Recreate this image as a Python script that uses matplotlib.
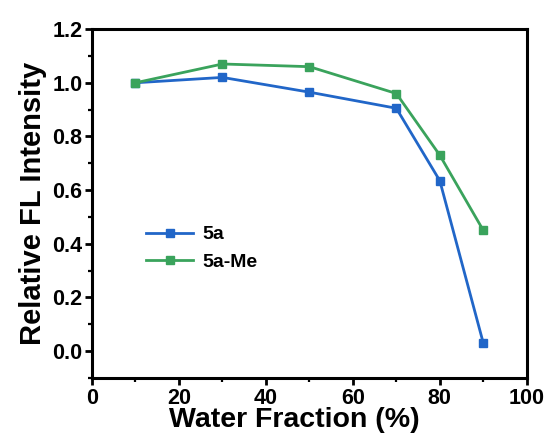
import matplotlib
matplotlib.use("Agg")
import matplotlib.pyplot as plt
from matplotlib.ticker import MultipleLocator

plt.rcParams['font.family'] = ['Liberation Sans', 'DejaVu Sans']
plt.rcParams['font.weight'] = 'bold'

water = [10, 30, 50, 70, 80, 90]
s_5a = [1.00, 1.02, 0.965, 0.905, 0.635, 0.03]
s_5a_me = [1.00, 1.07, 1.06, 0.96, 0.73, 0.45]
labels = ['5a', '5a-Me']
colors = ['#2166c8', '#3aa35c']

fig = plt.figure(figsize=(5.51, 4.41), dpi=100)
ax = fig.add_axes([0.167, 0.143, 0.789, 0.791])

ax.plot(water, s_5a, '-s', color=colors[0], lw=2.0, ms=5.5, label=labels[0])
ax.plot(water, s_5a_me, '-s', color=colors[1], lw=2.0, ms=5.5, label=labels[1])

ax.set_xlim(0, 100)
ax.set_ylim(-0.1, 1.2)
ax.xaxis.set_major_locator(MultipleLocator(20))
ax.xaxis.set_minor_locator(MultipleLocator(10))
ax.yaxis.set_minor_locator(MultipleLocator(0.1))
ax.set_yticks([0.0, 0.2, 0.4, 0.6, 0.8, 1.0, 1.2])
ax.set_yticklabels(['0.0', '0.2', '0.4', '0.6', '0.8', '1.0', '1.2'])

for sp in ax.spines.values():
    sp.set_linewidth(2.2)
ax.tick_params(which='major', direction='out', length=5, width=2.0, labelsize=15.5, pad=2)
ax.tick_params(which='minor', direction='out', length=3, width=1.6)
for lab in ax.get_xticklabels() + ax.get_yticklabels():
    lab.set_fontweight('bold')

ax.set_xlabel('Water Fraction (%)', fontsize=20.5, fontweight='bold')
ax.xaxis.set_label_coords(0.466, -0.084)
ax.set_ylabel('Relative FL Intensity', fontsize=21, fontweight='bold', labelpad=4)

leg = ax.legend(loc='center left', bbox_to_anchor=(0.125, 0.372), frameon=False,
                fontsize=14, handlelength=2.4, handletextpad=0.5, borderpad=0,
                borderaxespad=0, labelspacing=0.5)
for t in leg.get_texts():
    t.set_fontweight('bold')

fig.savefig('out.png', dpi=100)
